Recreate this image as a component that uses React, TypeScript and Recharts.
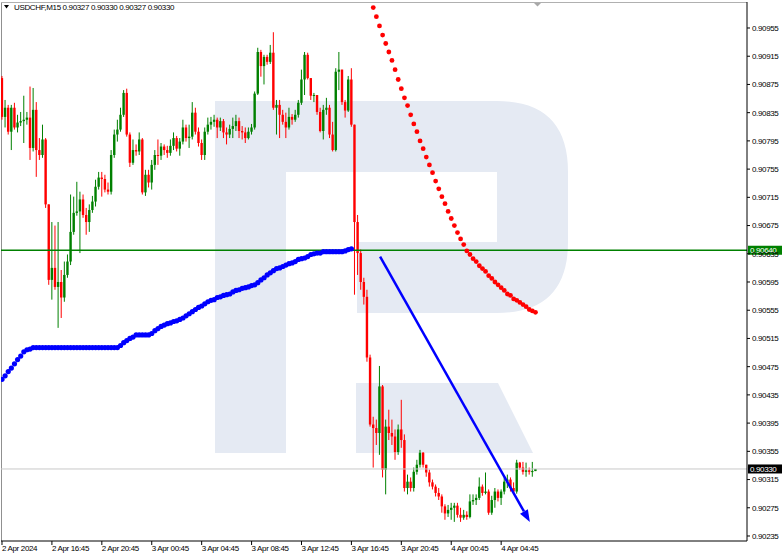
import { ComposedChart, Bar, Line, XAxis, YAxis, ReferenceLine } from 'recharts';

// USDCHF M15, 2 Apr 12:45 -> 4 Apr 07:30 (one value per bar)
const firstOpen = 0.90884;

const closes = [
  0.90829, 0.90842, 0.90808, 0.90842, 0.90814, 0.90821, 0.90823, 0.90825, 0.90828, 0.90785,
  0.90839, 0.90782, 0.90775, 0.90797, 0.90705, 0.90598, 0.90615, 0.90588, 0.90595, 0.90573,
  0.90605, 0.90624, 0.90666, 0.90693, 0.90695, 0.90712, 0.90690, 0.90680, 0.90697, 0.90709,
  0.90730, 0.90743, 0.90741, 0.90726, 0.90723, 0.90775, 0.90804, 0.90811, 0.90832, 0.90863,
  0.90804, 0.90764, 0.90782, 0.90780, 0.90797, 0.90722, 0.90747, 0.90736, 0.90761, 0.90775,
  0.90774, 0.90787, 0.90782, 0.90778, 0.90788, 0.90799, 0.90784, 0.90794, 0.90814, 0.90799,
  0.90801, 0.90835, 0.90808, 0.90792, 0.90775, 0.90808, 0.90818, 0.90822, 0.90825, 0.90814,
  0.90823, 0.90807, 0.90804, 0.90812, 0.90816, 0.90823, 0.90809, 0.90807, 0.90799, 0.90808,
  0.90814, 0.90862, 0.90921, 0.90901, 0.90914, 0.90907, 0.90920, 0.90842, 0.90846, 0.90832,
  0.90822, 0.90814, 0.90829, 0.90825, 0.90832, 0.90849, 0.90882, 0.90917, 0.90884, 0.90859,
  0.90860, 0.90836, 0.90809, 0.90839, 0.90842, 0.90804, 0.90782, 0.90893, 0.90896, 0.90850,
  0.90838, 0.90882, 0.90818, 0.90680, 0.90636, 0.90595, 0.90574, 0.90488, 0.90393, 0.90388,
  0.90381, 0.90447, 0.90329, 0.90390, 0.90381, 0.90376, 0.90354, 0.90386, 0.90371, 0.90303,
  0.90312, 0.90303, 0.90326, 0.90336, 0.90353, 0.90336, 0.90325, 0.90311, 0.90305, 0.90296,
  0.90291, 0.90277, 0.90267, 0.90272, 0.90275, 0.90278, 0.90265, 0.90261, 0.90265, 0.90262,
  0.90284, 0.90286, 0.90289, 0.90305, 0.90296, 0.90298, 0.90268, 0.90286, 0.90298, 0.90289,
  0.90298, 0.90312, 0.90315, 0.90303, 0.90298, 0.90339, 0.90332, 0.90326, 0.90328, 0.90326,
  0.90327, 0.90330,
];

const highs = [
  0.90887, 0.90853, 0.90846, 0.90846, 0.90849, 0.90832, 0.90836, 0.90859, 0.90836, 0.90872,
  0.90870, 0.90850, 0.90799, 0.90818, 0.90799, 0.90705, 0.90680, 0.90675, 0.90680, 0.90612,
  0.90624, 0.90634, 0.90719, 0.90716, 0.90737, 0.90723, 0.90719, 0.90700, 0.90705, 0.90717,
  0.90740, 0.90751, 0.90751, 0.90747, 0.90736, 0.90782, 0.90811, 0.90825, 0.90842, 0.90867,
  0.90869, 0.90807, 0.90797, 0.90790, 0.90807, 0.90799, 0.90754, 0.90754, 0.90768, 0.90782,
  0.90797, 0.90792, 0.90790, 0.90788, 0.90797, 0.90807, 0.90802, 0.90799, 0.90825, 0.90818,
  0.90818, 0.90850, 0.90842, 0.90814, 0.90797, 0.90814, 0.90828, 0.90829, 0.90832, 0.90828,
  0.90828, 0.90826, 0.90814, 0.90818, 0.90828, 0.90832, 0.90828, 0.90816, 0.90814, 0.90814,
  0.90819, 0.90865, 0.90927, 0.90924, 0.90917, 0.90917, 0.90931, 0.90949, 0.90853, 0.90853,
  0.90839, 0.90835, 0.90842, 0.90833, 0.90839, 0.90853, 0.90896, 0.90921, 0.90920, 0.90884,
  0.90863, 0.90860, 0.90842, 0.90846, 0.90856, 0.90846, 0.90822, 0.90898, 0.90921, 0.90896,
  0.90853, 0.90887, 0.90898, 0.90818, 0.90690, 0.90641, 0.90601, 0.90584, 0.90492, 0.90404,
  0.90400, 0.90476, 0.90449, 0.90400, 0.90414, 0.90400, 0.90386, 0.90393, 0.90428, 0.90379,
  0.90322, 0.90318, 0.90332, 0.90343, 0.90357, 0.90354, 0.90336, 0.90329, 0.90315, 0.90308,
  0.90303, 0.90294, 0.90280, 0.90279, 0.90282, 0.90282, 0.90282, 0.90275, 0.90272, 0.90270,
  0.90294, 0.90294, 0.90294, 0.90318, 0.90308, 0.90325, 0.90301, 0.90292, 0.90303, 0.90301,
  0.90301, 0.90318, 0.90322, 0.90318, 0.90311, 0.90343, 0.90340, 0.90340, 0.90339, 0.90332,
  0.90340, 0.90330,
];

const lows = [
  0.90825, 0.90814, 0.90804, 0.90782, 0.90811, 0.90807, 0.90816, 0.90792, 0.90818, 0.90768,
  0.90780, 0.90744, 0.90768, 0.90771, 0.90700, 0.90591, 0.90570, 0.90584, 0.90530, 0.90544,
  0.90567, 0.90601, 0.90619, 0.90662, 0.90689, 0.90636, 0.90686, 0.90662, 0.90666, 0.90693,
  0.90702, 0.90726, 0.90716, 0.90722, 0.90719, 0.90719, 0.90771, 0.90794, 0.90808, 0.90829,
  0.90801, 0.90758, 0.90761, 0.90774, 0.90775, 0.90719, 0.90717, 0.90729, 0.90726, 0.90754,
  0.90761, 0.90768, 0.90775, 0.90771, 0.90774, 0.90782, 0.90780, 0.90774, 0.90790, 0.90794,
  0.90785, 0.90797, 0.90804, 0.90787, 0.90768, 0.90768, 0.90804, 0.90811, 0.90815, 0.90799,
  0.90809, 0.90799, 0.90790, 0.90799, 0.90799, 0.90809, 0.90799, 0.90797, 0.90792, 0.90797,
  0.90804, 0.90811, 0.90860, 0.90886, 0.90875, 0.90903, 0.90904, 0.90839, 0.90804, 0.90799,
  0.90818, 0.90799, 0.90811, 0.90818, 0.90822, 0.90828, 0.90846, 0.90860, 0.90882, 0.90853,
  0.90850, 0.90832, 0.90807, 0.90797, 0.90832, 0.90799, 0.90780, 0.90780, 0.90867, 0.90846,
  0.90828, 0.90836, 0.90815, 0.90577, 0.90605, 0.90584, 0.90563, 0.90482, 0.90390, 0.90332,
  0.90364, 0.90350, 0.90318, 0.90294, 0.90371, 0.90364, 0.90343, 0.90350, 0.90360, 0.90298,
  0.90294, 0.90298, 0.90298, 0.90322, 0.90332, 0.90332, 0.90319, 0.90305, 0.90301, 0.90291,
  0.90286, 0.90268, 0.90258, 0.90262, 0.90258, 0.90255, 0.90261, 0.90255, 0.90258, 0.90258,
  0.90260, 0.90279, 0.90279, 0.90286, 0.90292, 0.90294, 0.90265, 0.90265, 0.90275, 0.90284,
  0.90279, 0.90294, 0.90303, 0.90298, 0.90294, 0.90295, 0.90329, 0.90322, 0.90319, 0.90322,
  0.90319, 0.90327,
];

// blue dotted indicator, bars 0..112
const blueDots = [
  0.90457, 0.90462, 0.90468, 0.90473, 0.90479, 0.90485, 0.90490, 0.90496, 0.90499, 0.90500,
  0.90502, 0.90502, 0.90502, 0.90502, 0.90502, 0.90502, 0.90502, 0.90502, 0.90502, 0.90502,
  0.90502, 0.90502, 0.90502, 0.90502, 0.90502, 0.90502, 0.90502, 0.90502, 0.90502, 0.90502,
  0.90502, 0.90502, 0.90502, 0.90502, 0.90502, 0.90502, 0.90502, 0.90502, 0.90505, 0.90509,
  0.90512, 0.90515, 0.90517, 0.90520, 0.90520, 0.90520, 0.90520, 0.90520, 0.90522, 0.90526,
  0.90529, 0.90532, 0.90534, 0.90536, 0.90537, 0.90539, 0.90540, 0.90542, 0.90544, 0.90547,
  0.90550, 0.90553, 0.90556, 0.90559, 0.90561, 0.90564, 0.90567, 0.90569, 0.90570, 0.90573,
  0.90574, 0.90576, 0.90577, 0.90578, 0.90581, 0.90583, 0.90584, 0.90586, 0.90587, 0.90588,
  0.90590, 0.90591, 0.90594, 0.90598, 0.90601, 0.90605, 0.90608, 0.90611, 0.90614, 0.90615,
  0.90617, 0.90619, 0.90621, 0.90622, 0.90624, 0.90627, 0.90628, 0.90629, 0.90631, 0.90634,
  0.90635, 0.90636, 0.90636, 0.90638, 0.90638, 0.90638, 0.90638, 0.90638, 0.90638, 0.90638,
  0.90639, 0.90641, 0.90642,
];

// red dotted indicator, bars 119..171
const redStart = 119;
const redDots = [
  0.90984, 0.90971, 0.90958, 0.90945, 0.90933, 0.90921, 0.90909, 0.90896, 0.90882, 0.90869,
  0.90856, 0.90845, 0.90832, 0.90819, 0.90808, 0.90795, 0.90784, 0.90772, 0.90761, 0.90750,
  0.90738, 0.90727, 0.90716, 0.90706, 0.90695, 0.90685, 0.90675, 0.90665, 0.90656, 0.90648,
  0.90639, 0.90634, 0.90628, 0.90624, 0.90618, 0.90614, 0.90610, 0.90604, 0.90600, 0.90595,
  0.90591, 0.90587, 0.90583, 0.90578, 0.90576, 0.90571, 0.90569, 0.90566, 0.90563, 0.90560,
  0.90556, 0.90554, 0.90552,
];

const trendFrom = { bar: 121.2, price: 0.90631 };
const trendTo = { bar: 169.2, price: 0.90255 };
const levelPrice = 0.9064;
const bidPrice = 0.9033;

const xTicks = [0, 16, 32, 48, 64, 80, 96, 112, 128, 144, 160];
const timeLabels = [
  '2 Apr 2024', '2 Apr 16:45', '2 Apr 20:45', '3 Apr 00:45', '3 Apr 04:45', '3 Apr 08:45',
  '3 Apr 12:45', '3 Apr 16:45', '3 Apr 20:45', '4 Apr 00:45', '4 Apr 04:45',
];
const yTicks = [
  0.90235, 0.90275, 0.90315, 0.90355, 0.90395, 0.90435, 0.90475, 0.90515, 0.90555, 0.90595,
  0.90635, 0.90675, 0.90715, 0.90755, 0.90795, 0.90835, 0.90875, 0.90915, 0.90955,
];

const FONT = "'Liberation Sans', Arial, sans-serif";
const UP = '#008000';
const DOWN = '#ff0000';

// each M15 bar opens at the previous close
const data = closes.map((c, i) => ({
  i,
  o: i === 0 ? firstOpen : closes[i - 1],
  h: highs[i],
  l: lows[i],
  c,
  range: [lows[i], highs[i]],
  blue: i < blueDots.length ? blueDots[i] : undefined,
  red: i >= redStart ? redDots[i - redStart] : undefined,
}));

const Candle = (props: any) => {
  const { x, y, width, height, payload } = props;
  if (x == null || payload == null) return null;
  const { o, h, l, c } = payload;
  const top = Math.min(y, y + height);
  const hh = Math.abs(height);
  const cx = x + width / 2;
  const span = h - l;
  const py = (p: number) => (span === 0 ? top : top + ((h - p) / span) * hh);
  const color = c > o ? UP : c < o ? DOWN : '#000000';
  const bTop = py(Math.max(o, c));
  const bBot = py(Math.min(o, c));
  return (
    <g>
      <line x1={cx} x2={cx} y1={top} y2={top + hh} stroke={color} strokeWidth={1} />
      <rect x={cx - 1.2} y={bTop} width={2.4} height={Math.max(bBot - bTop, 1)} fill={color} />
    </g>
  );
};

const PriceTag = (props: any) => {
  const { viewBox, text, bg } = props;
  if (!viewBox) return null;
  const x = viewBox.x + viewBox.width + 1;
  const y = viewBox.y;
  return (
    <g>
      <rect x={x} y={y - 4.5} width={34} height={9} fill={bg} />
      <text x={x + 2} y={y + 3} fill="#ffffff" fontSize={8} fontFamily={FONT} letterSpacing={-0.35}>
        {text}
      </text>
    </g>
  );
};

const TimeTick = (props: any) => {
  const { x, y, payload } = props;
  const k = xTicks.indexOf(payload.value);
  return (
    <text x={x} y={y + 6} textAnchor="start" fontSize={8} fontFamily={FONT} letterSpacing={-0.35} fill="#000">
      {timeLabels[k]}
    </text>
  );
};

const TrendArrow = (props: any) => {
  const { x1, y1, x2, y2 } = props;
  if (x1 == null) return null;
  const dx = x2 - x1;
  const dy = y2 - y1;
  const len = Math.sqrt(dx * dx + dy * dy);
  const ux = dx / len;
  const uy = dy / len;
  const bx = x2 - ux * 12;
  const by = y2 - uy * 12;
  const head = `${x2},${y2} ${bx - uy * 4.5},${by + ux * 4.5} ${bx + uy * 4.5},${by - ux * 4.5}`;
  return (
    <g>
      <line x1={x1} y1={y1} x2={bx} y2={by} stroke="#0000ff" strokeWidth={2.5} />
      <polygon points={head} fill="#0000ff" />
    </g>
  );
};

const Watermark = () => (
  <svg width={782} height={556} style={{ position: 'absolute', left: 0, top: 0 }}>
    <path
      d="M215,101 L497,101 Q568,101 568,172 L568,242 Q568,313 497,313 L357,313 L357,242 L497,242 L497,172 L286,172 L286,453 L215,453 Z"
      fill="#e5eaf3"
    />
    <path d="M356,383 L498,383 L533,453 L356,453 Z" fill="#e5eaf3" />
    <line x1={1.5} y1={2} x2={1.5} y2={541} stroke="#909090" strokeWidth={1} />
    <line x1={1} y1={2.5} x2={747} y2={2.5} stroke="#b0b0b0" strokeWidth={1} />
  </svg>
);

const Overlay = () => (
  <svg width={782} height={556} style={{ position: 'absolute', left: 0, top: 0, pointerEvents: 'none' }}>
    <polygon points="4,5 9,5 6.5,8.5" fill="#000" />
    <text x={14} y={10} fontSize={8} fontFamily={FONT} letterSpacing={-0.35} fill="#000">
      USDCHF,M15  0.90327 0.90330 0.90327 0.90330
    </text>
    <polygon points="534,3 541,3 537.5,6.5" fill="#a8a8a8" />
  </svg>
);

export default function App() {
  return (
    <div style={{ position: 'absolute', left: 0, top: 0, width: 782, height: 556, background: '#fff' }}>
      <Watermark />
      <ComposedChart
        width={782}
        height={556}
        data={data}
        margin={{ top: 2, right: 0, bottom: 0, left: 1 }}
      >
        <XAxis
          dataKey="i"
          type="number"
          domain={[-0.32, 238.8]}
          allowDataOverflow
          ticks={xTicks}
          interval={0}
          height={15}
          tickSize={4}
          tickMargin={0}
          tick={<TimeTick />}
          axisLine={{ stroke: '#000' }}
          tickLine={{ stroke: '#000' }}
        />
        <YAxis
          orientation="right"
          type="number"
          domain={[0.9022791, 0.9099185]}
          allowDataOverflow
          ticks={yTicks}
          interval={0}
          width={35}
          tickSize={3}
          tickMargin={2}
          tickFormatter={(v: number) => v.toFixed(5)}
          tick={{ fontSize: 8, fontFamily: FONT, fill: '#000', letterSpacing: -0.35 }}
          axisLine={{ stroke: '#000' }}
          tickLine={{ stroke: '#000' }}
        />
        <ReferenceLine
          y={bidPrice}
          stroke="#c8c8c8"
          strokeWidth={1}
          label={<PriceTag text="0.90330" bg="#000000" />}
        />
        <Bar dataKey="range" barSize={3} shape={<Candle />} isAnimationActive={false} />
        <Line
          dataKey="blue"
          stroke="none"
          dot={{ r: 2.6, fill: '#0000ff', stroke: 'none' }}
          isAnimationActive={false}
        />
        <Line
          dataKey="red"
          stroke="none"
          dot={{ r: 2.4, fill: '#ff0000', stroke: 'none' }}
          isAnimationActive={false}
        />
        <ReferenceLine
          y={levelPrice}
          stroke={UP}
          strokeWidth={1.5}
          label={<PriceTag text="0.90640" bg={UP} />}
        />
        <ReferenceLine
          segment={[
            { x: trendFrom.bar, y: trendFrom.price },
            { x: trendTo.bar, y: trendTo.price },
          ]}
          shape={<TrendArrow />}
        />
      </ComposedChart>
      <Overlay />
    </div>
  );
}
